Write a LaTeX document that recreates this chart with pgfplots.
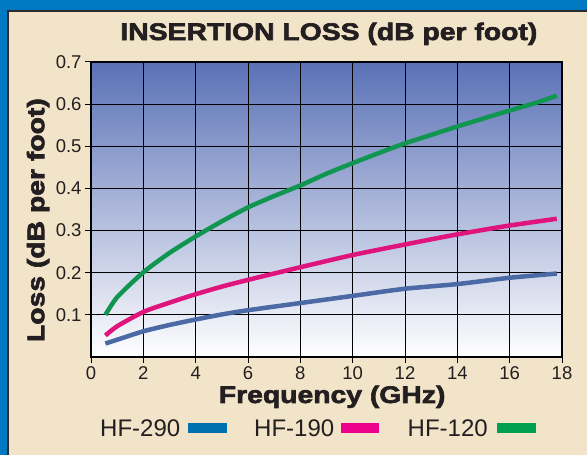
\documentclass[border=0pt]{standalone}
\usepackage{fontspec}
\usepackage{pgfplots}
\pgfplotsset{compat=1.18}
\setmainfont{Liberation Sans}
\newfontfamily\heavyfont[FakeStretch=1.18,FakeBold=2.6]{Liberation Sans Bold}
\definecolor{frameblue}{HTML}{0079C2}
\definecolor{beige}{HTML}{F2E4C9}
\definecolor{framedark}{HTML}{2A2A30}
\definecolor{textdark}{HTML}{231F20}
\definecolor{bgtop}{HTML}{5A71B6}
\definecolor{lineblue}{HTML}{4B69A5}
\definecolor{linemag}{HTML}{E0147D}
\definecolor{linegreen}{HTML}{109650}
\definecolor{legblue}{HTML}{0070B0}
\definecolor{legmag}{HTML}{EC008C}
\definecolor{leggreen}{HTML}{00A050}
\begin{document}
\begin{tikzpicture}[x=1bp,y=1bp]
\useasboundingbox (0,0) rectangle (587,455);
\fill[beige] (0,0) rectangle (587,455);
\fill[frameblue] (0,445) rectangle (587,455);
\fill[frameblue] (0,0) rectangle (6.5,455);
\draw[framedark, line width=2bp] (7.5,0) -- (7.5,444) -- (587,444);
\begin{axis}[
  at={(91bp,98bp)}, anchor=south west,
  scale only axis, width=471bp, height=295bp,
  xmin=0, xmax=18, ymin=0, ymax=0.7,
  axis background/.style={top color=bgtop, bottom color=white},
  axis line style={line width=2.5bp, black},
  grid=major, major grid style={black, line width=0.9bp},
  tick align=outside, tick pos=left, major tick length=6bp,
  tick style={black, line width=1bp},
  xtick={0,2,4,6,8,10,12,14,16,18},
  xticklabels={0,2,4,6,8,10,12,14,16,18},
  ytick={0.1,0.2,0.3,0.4,0.5,0.6,0.7},
  yticklabels={0.1,0.2,0.3,0.4,0.5,0.6,0.7},
  ticklabel style={font=\fontsize{18.5bp}{20bp}\selectfont, text=textdark},
  title={INSERTION LOSS (dB per foot)},
  title style={at={(axis description cs:0.505,1)}, anchor=base, yshift=16bp,
    font=\heavyfont\fontsize{24bp}{26bp}\selectfont, text=textdark},
  xlabel={Frequency (GHz)},
  xlabel style={at={(axis description cs:0.512,0)}, anchor=base, yshift=-46bp,
    font=\heavyfont\fontsize{24bp}{26bp}\selectfont, text=textdark},
  ylabel={Loss (dB per foot)},
  ylabel style={at={(axis description cs:-0.1125,0.464)}, anchor=center,
    font=\heavyfont\fontsize{24bp}{26bp}\selectfont, text=textdark},
]
\addplot[linegreen, line width=4.5bp, smooth, tension=0.4] coordinates {
(0.55,0.100) (1,0.142) (2,0.201) (3,0.247) (4,0.286) (5,0.322) (6,0.355) (7,0.382)
(8,0.407) (9,0.435) (10,0.460) (11,0.484) (12,0.507) (13,0.527) (14,0.547)
(15,0.566) (16,0.585) (17,0.603) (17.8,0.620)};
\addplot[linemag, line width=4.5bp, smooth, tension=0.4] coordinates {
(0.55,0.051) (1,0.073) (2,0.107) (3,0.129) (4,0.149) (5,0.167) (6,0.183)
(8,0.213) (10,0.242) (12,0.267) (14,0.291) (16,0.312) (17.8,0.328)};
\addplot[lineblue, line width=4.5bp, smooth, tension=0.4] coordinates {
(0.55,0.032) (1,0.041) (2,0.061) (3,0.076) (4,0.089) (5,0.101) (6,0.111)
(8,0.128) (10,0.145) (12,0.162) (14,0.173) (16,0.188) (17.8,0.198)};
\end{axis}
\begin{scope}[every node/.style={anchor=base west, inner sep=0pt, text=textdark,
  font=\fontsize{24bp}{26bp}\selectfont}]
\node at (100,18) {HF-290};
\fill[legblue] (188,21.7) rectangle (226.6,32.3);
\node at (254,18) {HF-190};
\fill[legmag] (341,21.7) rectangle (379,32.3);
\node at (407.5,18) {HF-120};
\fill[leggreen] (497,21.7) rectangle (535.6,32.3);
\end{scope}
\end{tikzpicture}
\end{document}
